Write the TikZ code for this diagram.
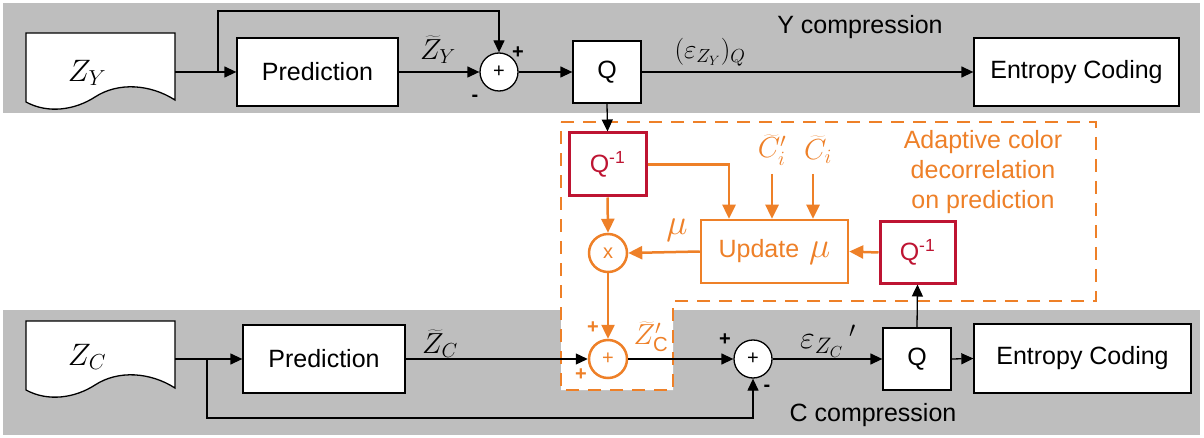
\documentclass[tikz,border=0pt]{standalone}
\usepackage{fix-cm}
\usepackage{fontspec}
\setmainfont{Liberation Sans}
\usetikzlibrary{arrows.meta}
\definecolor{bandgray}{RGB}{190,190,190}
\definecolor{acorange}{RGB}{238,128,40}
\definecolor{qred}{RGB}{190,20,50}
\begin{document}
\begin{tikzpicture}[x=1pt,y=-1pt,
  txt/.style={font=\fontsize{25}{29}\selectfont},
  mth/.style={font=\fontsize{31}{34}\selectfont},
  lbl/.style={inner sep=0pt,font=\fontsize{29}{32}\selectfont},
  pm/.style={font=\fontsize{20}{24}\selectfont\bfseries,inner sep=0pt},
  blk/.style={draw=black,line width=1.3pt,fill=white,txt,inner sep=0pt},
  sumc/.style={circle,draw=black,line width=1.3pt,fill=white,minimum size=38pt,inner sep=0pt,font=\fontsize{20}{24}\selectfont},
  osum/.style={circle,draw=acorange,text=acorange,line width=2.5pt,fill=white,minimum size=38pt,inner sep=0pt,font=\fontsize{20}{24}\selectfont},
  qbox/.style={draw=qred,text=qred,line width=3pt,fill=white,txt,inner sep=0pt},
  obox/.style={draw=acorange,text=acorange,line width=2.5pt,fill=white,txt,inner sep=0pt},
  arr/.style={draw=black,line width=1.3pt,-{Triangle[length=12pt,width=11pt]}},
  oarr/.style={draw=acorange,line width=2.5pt,-{Triangle[length=14pt,width=13pt]}},
  docshape/.style={draw=black,fill=white,line width=1.3pt}
]
\useasboundingbox (0,0) rectangle (1204,438);
% background bands
\fill[bandgray] (3,3) rectangle (1200,113);
\fill[bandgray] (3,310) rectangle (1200,435);
% adaptive region
\filldraw[fill=white,draw=acorange,line width=2.5pt,dash pattern=on 13pt off 9pt]
  (561,122) -- (1096,122) -- (1096,301) -- (673,301) -- (673,390) -- (561,390) -- cycle;

% documents
\path[docshape] (26,33) -- (175,33) -- (175,100) .. controls (150,84) and (118,82) .. (95,97)
  .. controls (75,110) and (48,114) .. (26,102) -- cycle;
\path[docshape] (26,321) -- (175,321) -- (175,388) .. controls (150,372) and (118,370) .. (95,385)
  .. controls (75,398) and (48,402) .. (26,390) -- cycle;
\node[mth] (zy) at (87,73) {$Z_Y$};
\node[mth] (zc) at (87,357) {$Z_C$};
\coordinate (zyo) at (175,72);
\coordinate (zco) at (175,359);
\coordinate (brY) at (218,72);
\coordinate (brC) at (207,359);

% Y row
\node[blk,minimum width=161pt,minimum height=68pt] (predY) at (317.5,72) {Prediction};
\node[sumc] (sumY) at (499,72) {+};
\node[blk,minimum width=68pt,minimum height=62pt] (qY) at (607,72) {Q};
\node[blk,minimum width=205pt,minimum height=68pt] (entY) at (1076.5,72) {Entropy Coding};

% C row
\node[blk,minimum width=162pt,minimum height=68pt] (predC) at (324,359) {Prediction};
\node[osum] (addO) at (608,359) {+};
\node[sumc] (sumC) at (753,359) {+};
\node[blk,minimum width=68pt,minimum height=62pt] (qC) at (917,359) {Q};
\node[blk,minimum width=217pt,minimum height=69pt] (entC) at (1082.5,358.5) {Entropy Coding};

% adaptive part
\node[qbox,minimum width=77pt,minimum height=63pt] (qi1) at (607.5,164.5) {Q\textsuperscript{-1}};
\node[obox,minimum width=147pt,minimum height=63pt] (upd) at (774.5,251.5) {Update\hspace{10pt}{\fontsize{36}{38}\selectfont$\mu$}};
\node[qbox,minimum width=75pt,minimum height=61pt] (qi2) at (917.5,252.5) {Q\textsuperscript{-1}};
\node[osum] (mult) at (608,253) {x};
\coordinate (cip) at (772,174);
\coordinate (ci) at (813,174);

% Y connectors
\draw[arr] (zyo) -- (predY.west);
\draw[arr] (brY) -- (218,11) -| (sumY.north);
\draw[arr] (predY.east) -- (sumY.west);
\draw[arr] (sumY.east) -- (qY.west);
\draw[arr] (qY.east) -- (entY.west);
\draw[arr] (qY.south) -- (qi1.north);

% C connectors
\draw[arr] (zco) -- (predC.west);
\draw[arr] (brC) -- (207,418) -| (sumC.south);
\draw[arr] (predC.east) -- (addO.west);
\draw[arr] (addO.east) -- (sumC.west);
\draw[arr] (sumC.east) -- (qC.west);
\draw[arr] (qC.east) -- (entC.west);
\draw[arr] (qC.north) -- (qi2.south);

% orange connectors
\draw[oarr] (qi1.south) -- (mult.north);
\draw[oarr] (qi1.east) -| ([xshift=-45.5pt]upd.north);
\draw[oarr] (cip) -- (cip |- upd.north);
\draw[oarr] (ci) -- (ci |- upd.north);
\draw[oarr] (upd.west) -- (mult.east);
\draw[oarr] (qi2.west) -- (upd.east);
\draw[oarr] (mult.south) -- (addO.north);

% labels
\node[lbl] (lzy) at (438,50) {$\widetilde{Z}_Y$};
\node[pm] (py1) at (518,53) {+};
\node[pm] (py2) at (475,98) {-};
\node[lbl,font=\fontsize{27}{30}\selectfont] (leps) at (710,52) {$(\varepsilon_{Z_Y})_Q$};
\node[txt] (ycomp) at (860,27) {Y compression};
\node[lbl] (lzc) at (440,344) {$\widetilde{Z}_C$};
\node[lbl,text=acorange] (lzcp) at (651,337) {$\widetilde{Z}'_{\mathrm{C}}$};
\node[lbl,font=\fontsize{32}{34}\selectfont] (lepc) at (828,341) {$\varepsilon_{Z_C}\hspace{6pt}{}^{\prime}$};
\node[pm] (pc1) at (725,340) {+};
\node[pm] (pc2) at (767,388) {-};
\node[pm,text=acorange] (po1) at (593,328) {+};
\node[pm,text=acorange] (po2) at (581,375) {+};
\node[txt] (ccomp) at (873,415) {C compression};
\node[lbl,font=\fontsize{36}{38}\selectfont,text=acorange] (lmu) at (677,230) {$\mu$};
\node[lbl,text=acorange] (lcip) at (772,150) {$\widetilde{C}'_{i}$};
\node[lbl,text=acorange] (lci) at (818,150) {$\widetilde{C}_{i}$};
\node[txt,text=acorange,align=center,font=\fontsize{25}{30}\selectfont] (adapt) at (983,172) {Adaptive color\\decorrelation\\on prediction};
\end{tikzpicture}
\end{document}
